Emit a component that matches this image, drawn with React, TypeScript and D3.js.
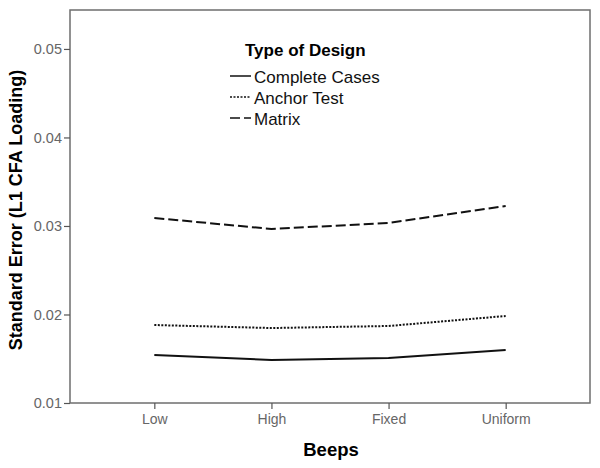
import * as d3 from "d3";
import { useEffect, useRef } from "react";

const categories = ["Low", "High", "Fixed", "Uniform"];
const completeCases = [0.01542, 0.01486, 0.01508, 0.01599];
const anchorTest = [0.01881, 0.01847, 0.0187, 0.01983];
const matrix = [0.0309, 0.02966, 0.03034, 0.03226];
const yTicks = [0.01, 0.02, 0.03, 0.04, 0.05];
const seriesNames = ["Complete Cases", "Anchor Test", "Matrix"];

export default function App() {
  const ref = useRef<SVGSVGElement>(null);
  const width = 600;
  const height = 468;

  useEffect(() => {
    const svg = d3.select(ref.current);
    svg.selectAll("*").remove();

    const m = { left: 70, top: 10, right: 590, bottom: 403 };
    const font = "'Liberation Sans', Arial, sans-serif";

    const x = d3
      .scalePoint<string>()
      .domain(categories)
      .range([m.left, m.right])
      .padding(0.72);

    const y = d3
      .scaleLinear()
      .domain([0.01, 0.0544])
      .range([m.bottom, m.top]);

    svg
      .append("rect")
      .attr("x", m.left)
      .attr("y", m.top)
      .attr("width", m.right - m.left)
      .attr("height", m.bottom - m.top)
      .attr("fill", "white")
      .attr("stroke", "#6e6e6e")
      .attr("stroke-width", 1.5);

    // y axis
    const yAxis = svg
      .append("g")
      .attr("transform", `translate(${m.left},0)`)
      .call(
        d3
          .axisLeft(y)
          .tickValues(yTicks)
          .tickSize(6)
          .tickPadding(2)
          .tickFormat(d3.format(".2f"))
      );
    yAxis.select(".domain").remove();
    yAxis.selectAll("line").attr("stroke", "#555").attr("stroke-width", 1.2);
    yAxis
      .selectAll("text")
      .attr("fill", "#666")
      .attr("font-family", font)
      .attr("font-size", 14.5);

    // x axis
    const xAxis = svg
      .append("g")
      .attr("transform", `translate(0,${m.bottom})`)
      .call(d3.axisBottom(x).tickSize(6).tickPadding(5));
    xAxis.select(".domain").remove();
    xAxis.selectAll("line").attr("stroke", "#555").attr("stroke-width", 1.2);
    xAxis
      .selectAll("text")
      .attr("fill", "#666")
      .attr("font-family", font)
      .attr("font-size", 14);

    const line = d3
      .line<number>()
      .x((_, i) => x(categories[i]) as number)
      .y((d) => y(d));

    const styles = [
      { data: completeCases, dash: null },
      { data: anchorTest, dash: "2,1.5" },
      { data: matrix, dash: "10,4" },
    ];

    styles.forEach((s) => {
      svg
        .append("path")
        .datum(s.data)
        .attr("fill", "none")
        .attr("stroke", "#111")
        .attr("stroke-width", 2)
        .attr("stroke-dasharray", s.dash)
        .attr("d", line);
    });

    // legend
    const lg = svg.append("g").attr("font-family", font);
    lg.append("text")
      .attr("x", 245)
      .attr("y", 56)
      .attr("font-weight", "bold")
      .attr("font-size", 17)
      .text("Type of Design");
    seriesNames.forEach((name, i) => {
      const yy = 83 + i * 21;
      lg.append("line")
        .attr("x1", 230)
        .attr("x2", 251)
        .attr("y1", yy - 7)
        .attr("y2", yy - 7)
        .attr("stroke", "#111")
        .attr("stroke-width", 1.5)
        .attr("stroke-dasharray", styles[i].dash);
      lg.append("text")
        .attr("x", 254)
        .attr("y", yy)
        .attr("font-size", 17)
        .attr("fill", "#111")
        .text(name);
    });

    svg
      .append("text")
      .attr("x", 331)
      .attr("y", 456)
      .attr("text-anchor", "middle")
      .attr("font-family", font)
      .attr("font-weight", "bold")
      .attr("font-size", 18.5)
      .text("Beeps");

    svg
      .append("text")
      .attr("transform", `translate(22,210) rotate(-90)`)
      .attr("text-anchor", "middle")
      .attr("font-family", font)
      .attr("font-weight", "bold")
      .attr("font-size", 18)
      .text("Standard Error (L1 CFA Loading)");
  }, []);

  return (
    <svg
      ref={ref}
      width={width}
      height={height}
      style={{ position: "absolute", left: 0, top: 0, background: "white" }}
    />
  );
}
